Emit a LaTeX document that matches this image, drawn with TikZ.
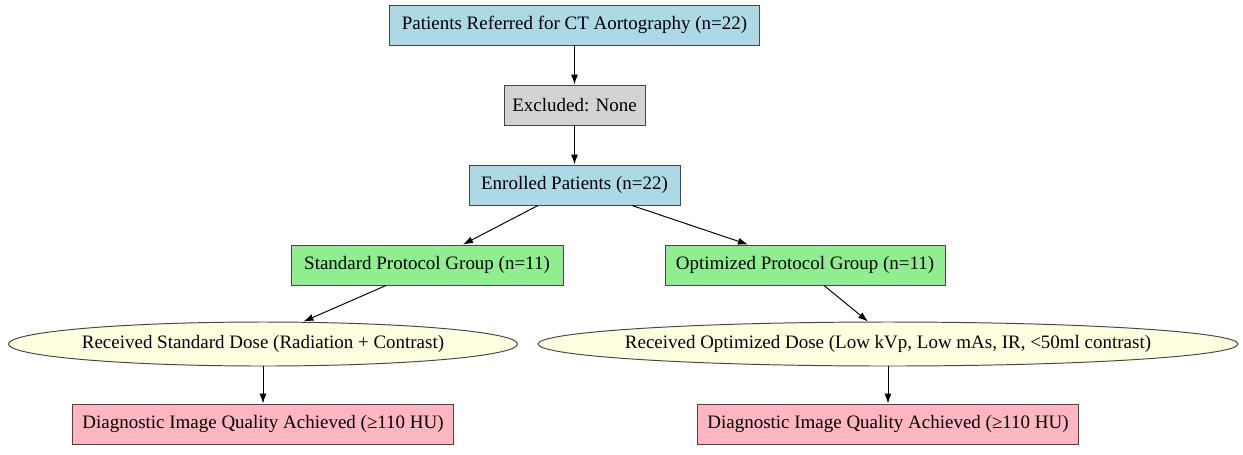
\documentclass[tikz,border=0pt]{standalone}
\usepackage{fontspec}
\setmainfont{Liberation Serif}
\usepackage{tikz}
\usetikzlibrary{shapes.geometric, arrows.meta}
\definecolor{boxblue}{RGB}{173,216,230}
\definecolor{boxgray}{RGB}{211,211,211}
\definecolor{boxgreen}{RGB}{144,238,144}
\definecolor{boxyellow}{RGB}{255,255,224}
\definecolor{boxpink}{RGB}{255,182,193}
\definecolor{edgegray}{RGB}{70,70,70}
\tikzset{
    stepbox/.style={shape=rectangle, draw=edgegray, line width=0.55pt, minimum height=0.8cm, inner sep=0pt, font=\fontsize{10.8}{12}\selectfont},
    dose/.style={shape=ellipse, draw=edgegray, line width=0.55pt, fill=boxyellow, minimum height=0.88cm, inner sep=0pt, font=\fontsize{10.8}{12}\selectfont},
    flow/.style={->, line width=0.55pt, black}}

\begin{document}
\begin{tikzpicture}[>={Latex[length=2mm,width=1.4mm]}]

                    \useasboundingbox (0,0) rectangle (24.86,-9.08);

                    \node[stepbox, fill=boxblue, minimum width=7.4cm] (R) at (11.49,-0.5) {Patients Referred for CT Aortography (n=22)};
                    \node[stepbox, fill=boxgray, minimum width=2.82cm] (X) at (11.49,-2.1) {Excluded: None};
                    \node[stepbox, fill=boxblue, minimum width=4.22cm] (E) at (11.49,-3.7) {Enrolled Patients (n=22)};
                    \node[stepbox, fill=boxgreen, minimum width=5.44cm] (S) at (8.54,-5.3) {Standard Protocol Group (n=11)};
                    \node[stepbox, fill=boxgreen, minimum width=5.6cm] (O) at (16.1,-5.3) {Optimized Protocol Group (n=11)};
                    \node[dose, minimum width=10.18cm] (SD) at (5.26,-6.88) {\makebox[0pt]{Received Standard Dose (Radiation + Contrast)}};
                    \node[dose, minimum width=14cm] (OD) at (17.76,-6.88) {\makebox[0pt]{Received Optimized Dose (Low kVp, Low mAs, IR, <50ml contrast)}};
                    \node[stepbox, fill=boxpink, minimum width=7.62cm] (SQ) at (5.26,-8.48) {Diagnostic Image Quality Achieved (≥110 HU)};
                    \node[stepbox, fill=boxpink, minimum width=7.62cm] (OQ) at (17.76,-8.48) {Diagnostic Image Quality Achieved (≥110 HU)};

                    \draw[flow] (R) -- (X);
                    \draw[flow] (X) -- (E);
                    \draw[flow] ([xshift=-0.73cm]E.south) -- ([xshift=0.72cm]S.north);
                    \draw[flow] ([xshift=1.15cm]E.south) -- ([xshift=-1.14cm]O.north);
                    \draw[flow] ([xshift=-0.82cm]S.south) -- ([xshift=0.81cm]SD.north);
                    \draw[flow] ([xshift=0.38cm]O.south) -- ([xshift=-0.4cm]OD.north);
                    \draw[flow] (SD) -- (SQ);
                    \draw[flow] (OD) -- (OQ);

                \end{tikzpicture}
\end{document}
